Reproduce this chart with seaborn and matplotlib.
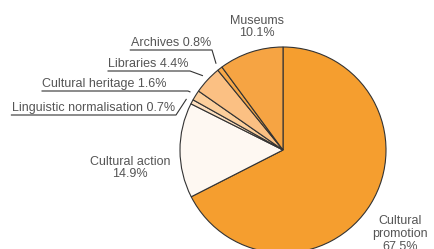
import numpy as np
import matplotlib
matplotlib.use("Agg")
import matplotlib.pyplot as plt
import seaborn as sns

# Slices, clockwise from 12 o'clock
categories = ["Cultural promotion", "Cultural action", "Linguistic normalisation",
              "Cultural heritage", "Libraries", "Archives", "Museums"]
shares = [67.5, 14.9, 0.7, 1.6, 4.4, 0.8, 10.1]
colors = ["#F59E2F", "#FEF8F2", "#FDE0BF", "#FCCF9C", "#FBC083", "#F8A848", "#F6A443"]

W, H = 434, 249
TEXT = "#555555"

sns.set_style("white")
plt.rcParams["font.family"] = ["Liberation Sans", "DejaVu Sans"]

fig = plt.figure(figsize=(W / 100, H / 100), dpi=100)
ax = fig.add_axes([0, 0, 1, 1])

cx, cy, r = 283, H - 150, 103
wedges, _ = ax.pie(shares, colors=colors, startangle=90, counterclock=False,
                   center=(cx, cy), radius=r, frame=True,
                   wedgeprops=dict(edgecolor="#333333", linewidth=0.8))
ax.set_xlim(0, W)
ax.set_ylim(0, H)
ax.set_aspect("equal")
ax.axis("off")

fs = 9

# labels placed around the pie
ax.text(257, H - 27, "Museums\n10.1%", ha="center", va="center", fontsize=fs,
        color=TEXT, linespacing=1.1)
ax.text(130, H - 168, "Cultural action\n14.9%", ha="center", va="center",
        fontsize=fs, color=TEXT, linespacing=1.1)
ax.text(400, H - 234, "Cultural\npromotion\n67.5%", ha="center", va="center",
        fontsize=fs, color=TEXT, linespacing=1.1)

# underlined labels with leader lines for the small slices
leader = {  # name: (text right x, underline end x, underline y in image px)
    "Linguistic normalisation": (176, 176, 115),
    "Cultural heritage": (168, 188, 91),
    "Libraries": (190, 190, 71),
    "Archives": (212, 212, 50),
}
fig.canvas.draw()
renderer = fig.canvas.get_renderer()
inv = ax.transData.inverted()
for w, name, val in zip(wedges, categories, shares):
    if name not in leader:
        continue
    xt, xe, yu = leader[name]
    yu = H - yu
    t = ax.text(xt - 1, yu + 1.5, f"{name} {val}%", ha="right", va="bottom",
                fontsize=fs, color=TEXT)
    bb = t.get_window_extent(renderer)
    x0 = inv.transform((bb.x0, bb.y0))[0]
    mid = np.deg2rad((w.theta1 + w.theta2) / 2)
    px = cx + 1.06 * r * np.cos(mid)
    py = cy + 1.06 * r * np.sin(mid)
    ax.plot([x0 - 1, xe, px], [yu, yu, py], color="#333333", lw=0.8,
            solid_capstyle="butt")

fig.savefig("out.png", dpi=100)
